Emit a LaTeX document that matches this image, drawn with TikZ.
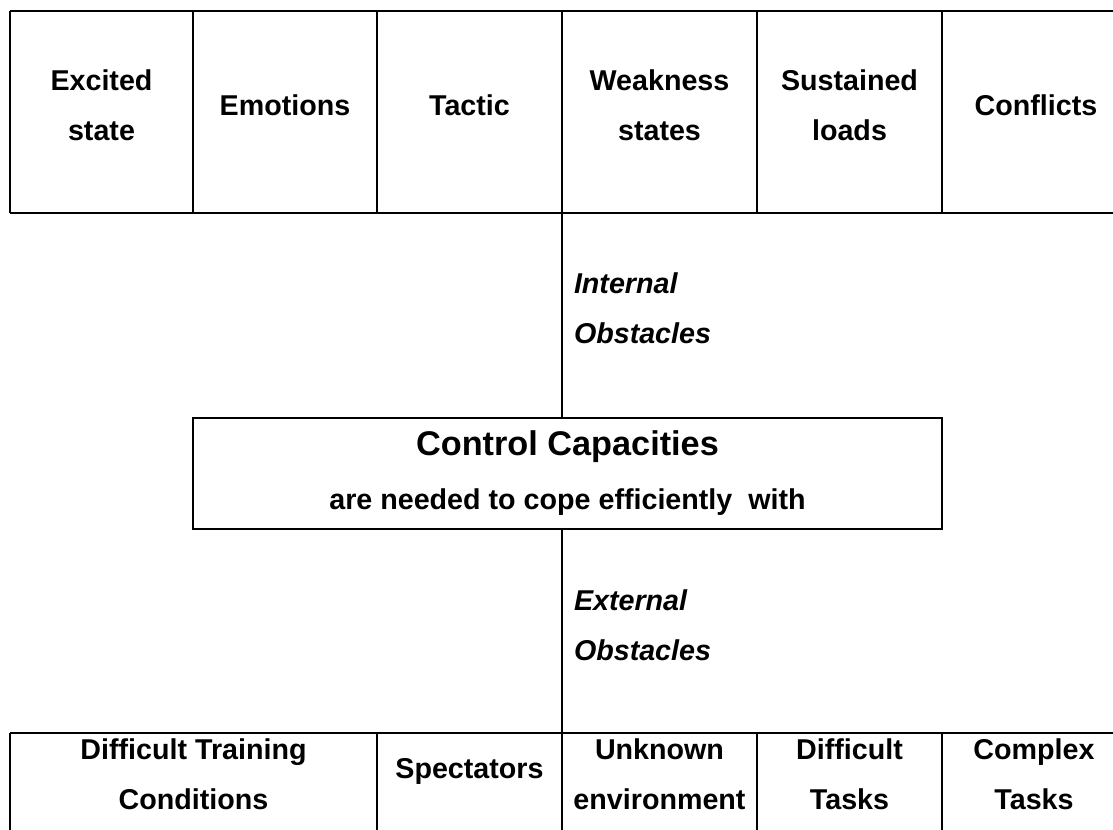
\documentclass[tikz,border=0pt]{standalone}
\usepackage{fontspec}
\setmainfont{Liberation Sans}
\usetikzlibrary{positioning, calc}
\tikzset{
  every picture/.style={font=\bfseries\fontsize{21.5pt}{37.5pt}\selectfont, line width=1.5pt},
  cell/.style={align=center, inner sep=0pt},
  obstacle/.style={align=left, anchor=west, inner sep=0pt, font=\bfseries\itshape\fontsize{21.5pt}{37.5pt}\selectfont},
  ctrlbox/.style={draw, align=center, minimum width=561.75pt, minimum height=83.25pt, inner sep=0pt,
    font=\bfseries\fontsize{21.5pt}{40.5pt}\selectfont},
}

\begin{document}
\begin{tikzpicture}[x=0.75pt, y=-0.75pt]
  \useasboundingbox (0,0) rectangle (1113,829);
  % internal obstacles row
  \draw (10,11) -- (1130,11) (10,213) -- (1130,213);
  \foreach \x in {10,193,377,562,757,942} \draw (\x,11) -- (\x,213);
  \node[cell] (excited)   at (101.5,105) {Excited\\state};
  \node[cell] (emotions)  at (285,105)   {Emotions};
  \node[cell] (tactic)    at (469.5,105) {Tactic};
  \node[cell] (weakness)  at (659.5,105) {Weakness\\states};
  \node[cell] (sustained) at (849.5,105) {Sustained\\loads};
  \node[cell] (conflicts) at (1036,105)  {Conflicts};

  \node[ctrlbox] (ctrl) at (567.5,473.5)
    {{\fontsize{25.7pt}{40.5pt}\selectfont Control Capacities}\\ are needed to cope efficiently~ with};

  \coordinate (topjoin) at (562,213);
  \coordinate (botjoin) at (562,733);
  \draw (topjoin) -- (topjoin |- ctrl.north);
  \draw (botjoin |- ctrl.south) -- (botjoin);
  \node[obstacle] (internal) at (573,308) {Internal\\Obstacles};
  \node[obstacle] (external) at (573,625) {External\\Obstacles};

  % external obstacles row
  \draw (10,733) -- (1130,733);
  \foreach \x in {10,377,562,757,942} \draw (\x,733) -- (\x,840);
  \node[cell] (training)    at (193.5,774) {Difficult Training\\Conditions};
  \node[cell] (spectators)  at (469.5,771) {Spectators};
  \node[cell] (unknown)     at (659.5,774) {Unknown\\environment};
  \node[cell] (difftasks)   at (849.5,774) {Difficult\\Tasks};
  \node[cell] (complextask) at (1034,774)  {Complex\\Tasks};
\end{tikzpicture}
\end{document}
